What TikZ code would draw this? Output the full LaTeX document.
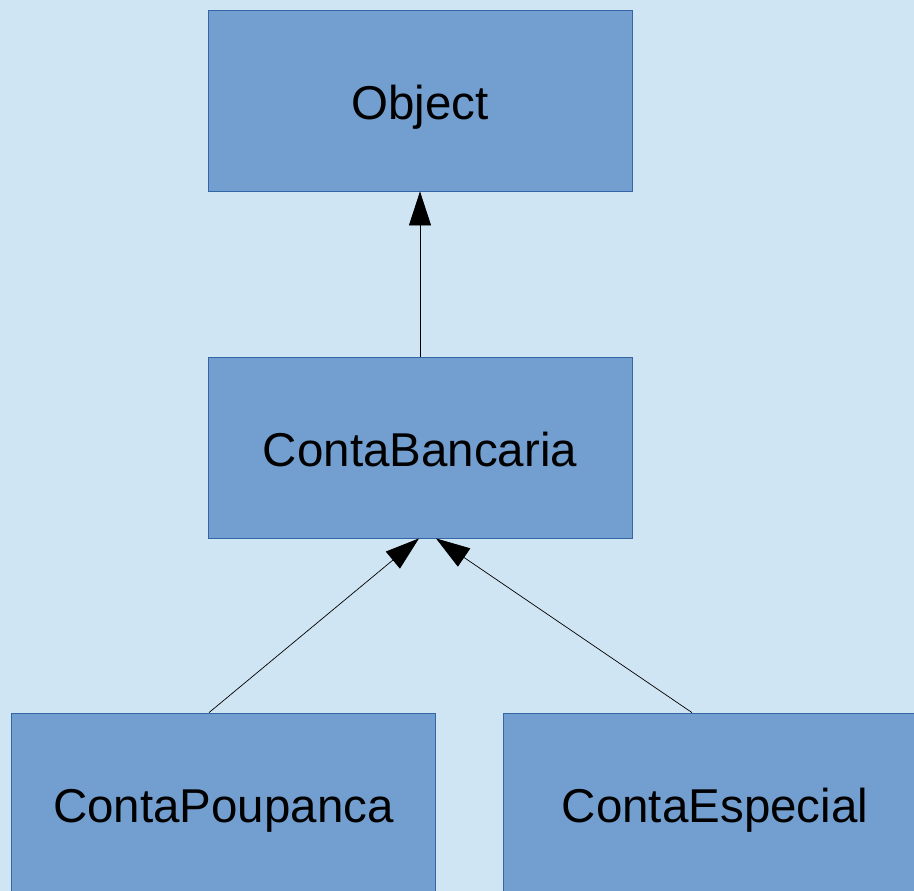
\documentclass[tikz,border=0pt]{standalone}
\usepackage{fontspec}
\setmainfont{Liberation Sans}
\usetikzlibrary{arrows.meta,calc}
\definecolor{bgcol}{HTML}{D0E5F3}
\definecolor{boxfill}{HTML}{729FCF}
\definecolor{boxline}{HTML}{3465A4}
\begin{document}
\begin{tikzpicture}[x=1pt,y=-1pt,
  cls/.style={rectangle,draw=boxline,fill=boxfill,line width=0.8pt,inner sep=0pt,
    minimum width=424pt,minimum height=181pt,text height=38pt,text depth=0pt,
    font=\fontsize{47.5}{56}\selectfont,text=black},
  inh/.style={-{Triangle[length=34pt,width=22pt]},line width=0.7pt,black}]
\useasboundingbox (0,0) rectangle (914,891);
\clip (0,0) rectangle (914,891);
\fill[bgcol] (0,0) rectangle (914,891);
\node[cls] (obj) at (420,100.5) {Object};
\node[cls] (cb) at (420,447.5) {ContaBancaria};
\node[cls] (cp) at (223.5,803.5) {ContaPoupanca};
\node[cls] (ce) at (715,803.5) {ContaEspecial};
\coordinate (cpa) at ($(cp.north)+(-14.5,0)$);
\coordinate (cea) at ($(ce.north)+(-23,0)$);
\coordinate (cbl) at ($(cb.south)+(-1,0)$);
\coordinate (cbr) at ($(cb.south)+(16,0)$);
\draw[inh] (cb.north) -- (obj.south);
\draw[inh] (cpa) -- (cbl);
\draw[inh] (cea) -- (cbr);
\end{tikzpicture}
\end{document}
